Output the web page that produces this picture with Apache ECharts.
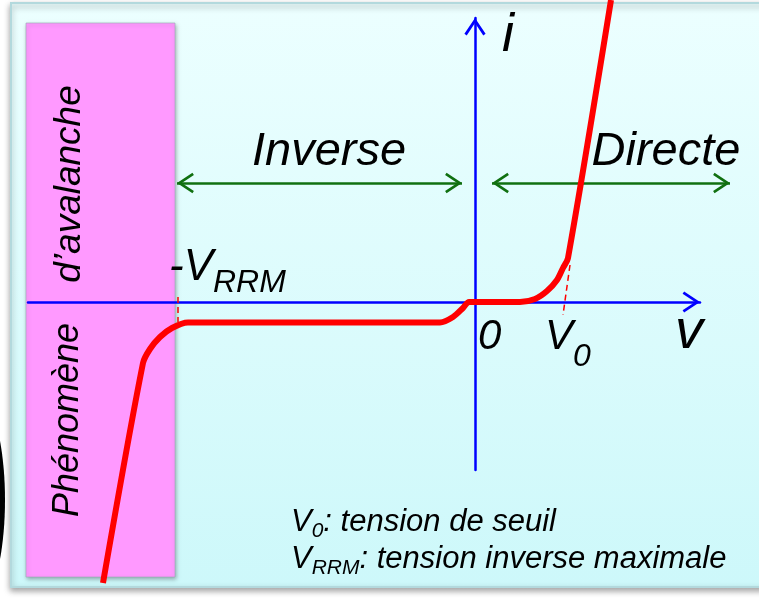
<!DOCTYPE html>
<html>
<head>
<meta charset="utf-8">
<style>
  html, body { margin: 0; padding: 0; background: #fff; }
  #chart { width: 759px; height: 598px; }
</style>
<script src="https://cdn.jsdelivr.net/npm/echarts@6.0.0/dist/echarts.min.js"></script>
</head>
<body>
<div id="chart"></div>
<script>
// caractéristique i(v) de la diode (unités arbitraires)
const curveV = [-37.2, -33.2, -32.5, -31.5, -30.3, -28.7, -3.5, -2.2, -1.2, -0.6, 0, 4.5, 6.0, 7.2, 8.2, 8.8, 9.3, 13.6];
const curveI = [-28.1, -6.1, -4.7, -3.5, -2.6, -2.05, -2.05, -1.5, -0.6, 0, 0, 0, 0.3, 1.1, 2.2, 3.4, 4.4, 30.2];

// pointillés de repère V0 et -VRRM
const dashV0 = [[9.5, 3.7], [8.8, -1.3]];
const dashVrrm = [[-29.7, 0.5], [-29.7, -2.0]];

// zones inverse / directe (flèches vertes)
const zoneInverse = [-29.8, -1.3];
const zoneDirecte = [1.7, 25.5];
const zoneLevel = 11.9;
const zoneNames = ['Inverse', 'Directe'];

const vRange = [-44.7, 22.5];
const iRange = [-16.8, 28.4];

const axisNames = ['v', 'i'];
const tickLabels = ['0', 'V', '0', '-V', 'RRM'];
const legendLines = [['V', '0', ': tension de seuil'], ['V', 'RRM', ': tension inverse maximale']];
const sideText = ['Phénomène', 'd’avalanche'];

const FONT = '"Liberation Sans", Arial, sans-serif';
const BLUE = '#0000ff';
const RED = '#ff0000';
const GREEN = '#107010';

// chevron ouvert, pointe au centre de la boite
const chevron = 'path://M0,0L0,0.01M34,34L34,34.01M7,32L17,17L27,32L24.84,33.44L17,21.69L9.16,33.44Z';

const measureCtx = document.createElement('canvas').getContext('2d');
function textWidth(s, size) {
  measureCtx.font = 'italic ' + size + 'px ' + FONT;
  return measureCtx.measureText(s).width;
}

function label(s, x, base, size, align, extra) {
  return Object.assign({
    type: 'text',
    x: x,
    y: base - 0.35 * size,
    z: 100,
    style: {
      text: s,
      fontSize: size,
      fontStyle: 'italic',
      fontFamily: FONT,
      fill: '#000',
      align: align || 'left',
      textAlign: align || 'left',
      verticalAlign: 'middle',
      textVerticalAlign: 'middle'
    }
  }, extra || {});
}

const texts = [];
texts.push(label(axisNames[1], 502, 55, 54));
texts.push(label(axisNames[0], 675, 352, 56));
texts.push(label(zoneNames[0], 329, 168, 47, 'center'));
texts.push(label(zoneNames[1], 666, 168, 47, 'center'));
texts.push(label(tickLabels[0], 478, 352, 42));
texts.push(label(tickLabels[1], 545, 352, 42));
texts.push(label(tickLabels[2], 545 + textWidth(tickLabels[1], 42), 368, 32));
texts.push(label(tickLabels[3], 169, 283, 44));
texts.push(label(tickLabels[4], 169 + textWidth(tickLabels[3], 44), 294, 32));

legendLines.forEach(function (parts, k) {
  const base = 533 + k * 37;
  let x = 291;
  texts.push(label(parts[0], x, base, 31));
  x += textWidth(parts[0], 31);
  texts.push(label(parts[1], x, base + 6, 21));
  x += textWidth(parts[1], 21);
  texts.push(label(parts[2], x, base, 31));
});

texts.push(label(sideText[0], 68, 420, 36, 'center', { rotation: Math.PI / 2, y: 420 }));
texts.push(label(sideText[1], 70, 184, 37, 'center', { rotation: Math.PI / 2, y: 184 }));

const chart = echarts.init(document.getElementById('chart'), null, { renderer: 'canvas' });

chart.setOption({
  animation: false,
  backgroundColor: '#ffffff',
  grid: { left: 28, right: 59, top: 18, bottom: 128, outerBoundsMode: 'none' },
  xAxis: {
    type: 'value',
    min: vRange[0],
    max: vRange[1],
    axisLine: {
      show: true,
      onZero: true,
      symbol: ['none', chevron],
      symbolSize: [36, 36],
      lineStyle: { color: BLUE, width: 2.5 }
    },
    axisTick: { show: false },
    axisLabel: { show: false },
    splitLine: { show: false }
  },
  yAxis: {
    type: 'value',
    min: iRange[0],
    max: iRange[1],
    axisLine: {
      show: true,
      onZero: true,
      symbol: ['none', chevron],
      symbolSize: [36, 36],
      lineStyle: { color: BLUE, width: 2.5 }
    },
    axisTick: { show: false },
    axisLabel: { show: false },
    splitLine: { show: false }
  },
  graphic: [
    {
      type: 'rect',
      z: -100,
      shape: { x: 11, y: 3, width: 770, height: 584 },
      style: {
        fill: {
          type: 'linear', x: 0, y: 0, x2: 0, y2: 1,
          colorStops: [{ offset: 0, color: '#ecffff' }, { offset: 1, color: '#cdf8fa' }]
        },
        stroke: '#b3d9dd',
        lineWidth: 2,
        shadowBlur: 6,
        shadowOffsetY: 3,
        shadowColor: 'rgba(0,0,0,0.35)'
      }
    },
    {
      type: 'rect',
      z: -90,
      shape: { x: 26, y: 23, width: 149, height: 554 },
      style: {
        fill: '#ff99ff',
        stroke: 'rgba(150,170,180,0.6)',
        lineWidth: 1,
        shadowBlur: 4,
        shadowOffsetX: 1,
        shadowOffsetY: 2,
        shadowColor: 'rgba(0,0,0,0.3)'
      }
    },
    {
      type: 'ellipse',
      z: -80,
      shape: { cx: -30, cy: 500, rx: 35, ry: 115 },
      style: { fill: '#000' }
    }
  ].concat(texts),
  series: [
    {
      type: 'lines',
      coordinateSystem: 'cartesian2d',
      clip: false,
      silent: true,
      z: 3,
      symbol: [chevron, chevron],
      symbolSize: 35,
      lineStyle: { color: GREEN, width: 2.5, opacity: 1, curveness: 0 },
      data: [
        { coords: [[zoneInverse[0], zoneLevel], [zoneInverse[1], zoneLevel]] },
        { coords: [[zoneDirecte[0], zoneLevel], [zoneDirecte[1], zoneLevel]] }
      ]
    },
    {
      type: 'lines',
      coordinateSystem: 'cartesian2d',
      clip: false,
      silent: true,
      z: 4,
      symbol: 'none',
      lineStyle: { color: RED, width: 1.5, type: [6, 4], opacity: 1, curveness: 0 },
      data: [{ coords: dashV0 }, { coords: dashVrrm }]
    },
    {
      type: 'line',
      name: 'i(v)',
      clip: false,
      silent: true,
      z: 5,
      smooth: 0.3,
      showSymbol: false,
      symbol: 'none',
      lineStyle: { color: RED, width: 6 },
      data: curveV.map(function (v, k) { return [v, curveI[k]]; })
    }
  ]
});
</script>
</body>
</html>
